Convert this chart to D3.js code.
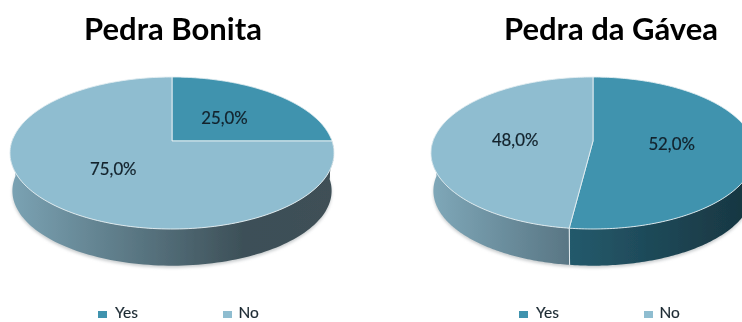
<!DOCTYPE html>
<html><head><meta charset="utf-8">
<script src="https://cdn.jsdelivr.net/npm/d3@7/dist/d3.min.js"></script>
<style>html,body{margin:0;padding:0;background:#fff}svg{display:block}text{font-family:Lato,"Open Sans",sans-serif}</style>
</head><body><svg id="c" width="742" height="322"></svg>
<script>
const titles = ["Pedra Bonita", "Pedra da Gávea"];
const categories = ["Yes", "No"];
const bonitaValues = [25, 75];
const gaveaValues = [52, 48];
const seriesValues = [bonitaValues, gaveaValues];

const svg = d3.select("#c");
const defs = svg.append("defs");
defs.append("filter").attr("id","soft").attr("x","-10%").attr("y","-10%").attr("width","120%").attr("height","120%")
  .append("feGaussianBlur").attr("stdDeviation",1.6);
defs.append("filter").attr("id","img").attr("x","0").attr("y","0").attr("width","100%").attr("height","100%")
  .append("feGaussianBlur").attr("stdDeviation",0.35);
const root = svg.append("g").attr("filter","url(#img)");
root.append("rect").attr("width",742).attr("height",322).attr("fill","#fff");

const fills = {Yes:"#3f93ae", No:"#8fbdd0"};
const layouts = [
  {cx:172, titleX:173, legend:[98,223], sides:{No:[[0,"#7ba3b4"],[.72,"#3d5058"],[1,"#3f5057"]], Yes:[[0,"#3d5058"],[1,"#3d5058"]]}},
  {cx:593, titleX:611, legend:[519,644], sides:{No:[[0,"#7fa8b9"],[1,"#597684"]], Yes:[[0,"#245a6c"],[1,"#17343f"]]}}
];
const cy=141, a=160, b=74.1, k=-0.158, depth=37, bottomScale=0.985;
const pie = d3.pie().sort(null).value(d=>d);

function proj(t, r=1){
  const u=Math.sin(t)*r, v=-Math.cos(t)*r, w=1+k*v;
  return [a*u/w, b*v/w];
}
const fmt = v => v.toFixed(1).replace(".",",")+"%";

seriesValues.forEach((vals,i)=>{
  const L=layouts[i], g=root.append("g");
  const arcs=pie(vals);
  const top=t=>{const p=proj(t);return [L.cx+p[0],cy+p[1]];};
  const bot=t=>{const p=proj(t);return [L.cx+p[0]*bottomScale,cy+p[1]*bottomScale+depth+1];};
  const sample=(s,e,n=120)=>d3.range(n+1).map(j=>s+(e-s)*j/n);
  const line=d3.line();

  g.append("path").attr("d",line(sample(0,2*Math.PI,240).map(t=>{const p=bot(t);return [p[0],p[1]+2];}))+"Z")
    .attr("fill","#c9cdcf").attr("filter","url(#soft)");

  const minA=Math.PI/2+0.16, maxA=3*Math.PI/2-0.16;
  arcs.forEach((d,j)=>{
    const s=Math.max(d.startAngle,minA-0.2), e=Math.min(d.endAngle,maxA+0.2);
    if(e<=s) return;
    const cat=categories[j], ts=sample(s,e);
    const xs=ts.map(t=>top(t)[0]);
    const id=`side${i}${j}`;
    const lg=defs.append("linearGradient").attr("id",id).attr("gradientUnits","userSpaceOnUse")
      .attr("x1",d3.min(xs)).attr("x2",d3.max(xs)).attr("y1",0).attr("y2",0);
    L.sides[cat].forEach(st=>lg.append("stop").attr("offset",st[0]).attr("stop-color",st[1]));
    const pts=ts.map(top).concat(ts.slice().reverse().map(bot));
    g.append("path").attr("d",line(pts)+"Z").attr("fill",`url(#${id})`);
    [s,e].forEach(t=>{ if(t>minA&&t<maxA) g.append("path").attr("d",line([top(t),bot(t)])).attr("stroke","#dfe8ec").attr("stroke-width",1).attr("fill","none"); });
  });

  arcs.forEach((d,j)=>{
    const pts=[[L.cx,cy]].concat(sample(d.startAngle,d.endAngle,200).map(top));
    g.append("path").attr("d",line(pts)+"Z").attr("fill",fills[categories[j]]).attr("stroke","#e4eef2").attr("stroke-width",0.9).attr("stroke-linejoin","round");
  });

  arcs.forEach(d=>{
    const p=proj((d.startAngle+d.endAngle)/2,0.49);
    g.append("text").attr("x",L.cx+p[0]).attr("y",cy+p[1]+1).attr("dy","0.36em").attr("text-anchor","middle")
      .attr("font-size",16.8).attr("fill","#12222c").attr("stroke","#12222c").attr("stroke-width",0.2).text(fmt(d.data));
  });

  root.append("text").attr("x",L.titleX).attr("y",40).attr("text-anchor","middle").attr("font-size",31).attr("font-weight",700).attr("fill","#000").text(titles[i]);

  categories.forEach((c,j)=>{
    root.append("rect").attr("x",L.legend[j]).attr("y",311).attr("width",9).attr("height",7).attr("fill",fills[c]);
    root.append("text").attr("x",L.legend[j]+(c==="Yes"?17:15.5)).attr("y",318).attr("font-size",15.5).attr("fill","#1c2a33").attr("stroke","#1c2a33").attr("stroke-width",0.15).text(c);
  });
});
</script></body></html>
